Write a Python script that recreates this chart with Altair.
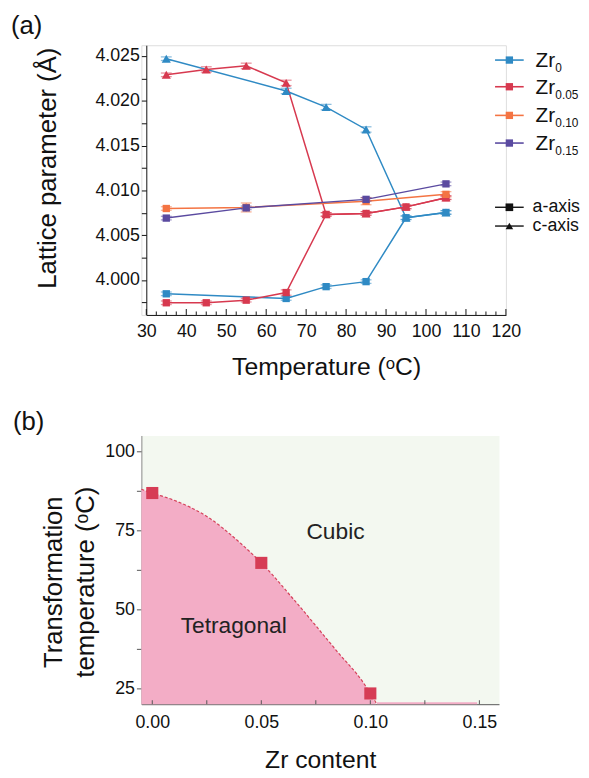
import altair as alt
import pandas as pd

FONT = "Liberation Sans"

# ---------------- panel (a) data ----------------
series_names = ["Zr0", "Zr0.05", "Zr0.10", "Zr0.15"]
series_subs = ["0", "0.05", "0.10", "0.15"]
series_colors = ["#2f8ac4", "#d7394f", "#f47443", "#5a4aa0"]

temps_zr0 = [35, 65, 75, 85, 95, 105]
zr0_a = [3.99846, 3.99794, 3.99926, 3.99982, 4.00695, 4.00754]
zr0_a_err = [0.0002, 0.0002, 0.0002, 0.0002, 0.0002, 0.0002]
zr0_c = [4.0247, 4.0211, 4.0193, 4.0168, 4.00695, 4.00754]
zr0_c_err = [0.0002, 0.0003, 0.0003, 0.0003, 0.0002, 0.0002]

temps_zr005 = [35, 45, 55, 65, 75, 85, 95, 105]
zr005_a = [3.99746, 3.99746, 3.99775, 3.9986, 4.00732, 4.00743, 4.00816, 4.00919]
zr005_a_err = [0.0002, 0.0002, 0.0002, 0.0003, 0.0002, 0.0002, 0.0002, 0.0002]
zr005_c = [4.0229, 4.0235, 4.0239, 4.0220, 4.00732, 4.00743, 4.00816, 4.00919]
zr005_c_err = [0.0002, 0.0003, 0.0003, 0.0003, 0.0002, 0.0002, 0.0002, 0.0002]

temps_zr010 = [35, 55, 85, 105]
zr010_a = [4.00798, 4.0081, 4.0088, 4.00956]
zr010_a_err = [0.0002, 0.0005, 0.0004, 0.0003]

temps_zr015 = [35, 55, 85, 105]
zr015_a = [4.00691, 4.00805, 4.00900, 4.01073]
zr015_a_err = [0.0002, 0.0002, 0.0002, 0.0002]

x_labels_a = [30, 40, 50, 60, 70, 80, 90, 100, 110, 120]
x_minor_a = [32.5, 35, 37.5, 42.5, 45, 47.5, 52.5, 55, 57.5, 62.5, 65, 67.5,
             72.5, 75, 77.5, 82.5, 85, 87.5, 92.5, 95, 97.5, 102.5, 105, 107.5,
             112.5, 115, 117.5]
y_ticks_a = [3.9975, 4.0, 4.0025, 4.005, 4.0075, 4.01, 4.0125, 4.015, 4.0175,
             4.02, 4.0225, 4.025]

# ---------------- panel (b) data ----------------
zr_content = [0.0, 0.05, 0.10]
trans_temp = [86.8, 64.7, 23.4]
curve_x = [-0.005, 0.0, 0.01, 0.025, 0.04, 0.05, 0.065, 0.085, 0.097, 0.100, 0.103]
curve_t = [88.0, 86.8, 84.5, 79.4, 71.2, 64.7, 53.0, 36.5, 26.6, 23.4, 20.0]
floor_x = [0.103, 0.149]
floor_t = [20.6, 20.6]
x_ticks_b = [0.0, 0.025, 0.05, 0.075, 0.10, 0.125, 0.15]
x_labels_b = [0.0, 0.05, 0.10, 0.15]
y_ticks_b = [25, 37.5, 50, 62.5, 75, 87.5, 100]

# ---------------- build table for (a) ----------------
rows = []
def add(series, kind, temps, vals, errs):
    for t, v, e in zip(temps, vals, errs):
        rows.append(dict(series=series, kind=kind, T=t, v=v, lo=v - e, hi=v + e))

add("Zr0", "a", temps_zr0, zr0_a, zr0_a_err)
add("Zr0", "c", temps_zr0, zr0_c, zr0_c_err)
add("Zr0.05", "a", temps_zr005, zr005_a, zr005_a_err)
add("Zr0.05", "c", temps_zr005, zr005_c, zr005_c_err)
add("Zr0.10", "a", temps_zr010, zr010_a, zr010_a_err)
add("Zr0.15", "a", temps_zr015, zr015_a, zr015_a_err)
df_a = pd.DataFrame(rows)

SHIFT = 5  # panel (a) plot starts a few pixels right of panel (b)
W_A, H_A = 364 + SHIFT, 273
sx_a = alt.Scale(domain=[30, 120], nice=False, zero=False, range=[SHIFT, W_A])
sy_a = alt.Scale(domain=[3.9961, 4.0262], nice=False, zero=False)
ax_x_a = alt.Axis(values=x_labels_a, format="d", ticks=False, grid=False,
                  labelOverlap=False, labelFlush=False,
                  labelPadding=8, labelFontSize=18, labelFont=FONT, labelColor="#111",
                  domainColor="#111", title="Temperature (ᵒC)", titleFont=FONT,
                  titleFontSize=25, titleFontWeight="normal", titleColor="#111",
                  titleY=60, titleBaseline="alphabetic")
ax_y_a = alt.Axis(values=y_ticks_a, offset=-SHIFT,
                  labelExpr="round(datum.value*10000) % 50 == 0 ? format(datum.value, '.3f') : ''",
                  labelOverlap=False, labelFlush=False,
                  tickSize=5, tickColor="#111", grid=False, labelPadding=2,
                  labelFontSize=18, labelFont=FONT, labelColor="#111",
                  domainColor="#111", title="Lattice parameter (Å)", titleFont=FONT,
                  titleFontSize=26, titleFontWeight="normal", titleColor="#111",
                  titleAngle=270, titleX=-100, titleY=124, titleBaseline="middle",
                  titleAlign="center")

def XA(field):
    return alt.X(field, type="quantitative", scale=sx_a, axis=ax_x_a)

def YA(field):
    return alt.Y(field, type="quantitative", scale=sy_a, axis=ax_y_a)

col = alt.Color("series:N", scale=alt.Scale(domain=series_names, range=series_colors), legend=None)
base_a = alt.Chart(df_a)

lines_a = base_a.mark_line(strokeWidth=1.5).encode(x=XA("T"), y=YA("v"), color=col, detail="kind:N")
err_a = base_a.mark_rule(strokeWidth=1.3, opacity=0.55).encode(x=XA("T"), y=YA("lo"), y2="hi:Q", color=col)
cap_lo = base_a.mark_tick(orient="horizontal", size=11, thickness=1.3, opacity=0.55).encode(x=XA("T"), y=YA("lo"), color=col)
cap_hi = base_a.mark_tick(orient="horizontal", size=11, thickness=1.3, opacity=0.55).encode(x=XA("T"), y=YA("hi"), color=col)
pts_a = base_a.mark_point(filled=True, opacity=1, strokeWidth=0).encode(
    x=XA("T"), y=YA("v"), color=col,
    shape=alt.Shape("kind:N", scale=alt.Scale(domain=["a", "c"], range=["square", "triangle-up"]), legend=None),
    size=alt.Size("kind:O", scale=alt.Scale(domain=["a", "c"], range=[55, 85]), legend=None))

tick_major_a = alt.Chart(pd.DataFrame({"tv": x_labels_a})).mark_rule(color="#111", strokeWidth=1).encode(
    x=XA("tv"), y=alt.value(H_A), y2=alt.value(H_A - 6))
tick_minor_a = alt.Chart(pd.DataFrame({"tv": x_minor_a})).mark_rule(color="#111", strokeWidth=1).encode(
    x=XA("tv"), y=alt.value(H_A), y2=alt.value(H_A - 3.5))

dummy = pd.DataFrame({"k": [0]})
legend_layers = []
leg_y = [15, 42, 71, 99]
LX = 358
for name, sub, c, yy in zip(series_names, series_subs, series_colors, leg_y):
    legend_layers.append(alt.Chart(dummy).mark_rule(color=c, strokeWidth=1.6).encode(
        x=alt.value(LX), x2=alt.value(LX + 29), y=alt.value(yy)))
    legend_layers.append(alt.Chart(dummy).mark_point(shape="square", filled=True, color=c, size=55, opacity=1, strokeWidth=0).encode(
        x=alt.value(LX + 14.5), y=alt.value(yy)))
    legend_layers.append(alt.Chart(dummy).mark_text(text="Zr", font=FONT, fontSize=21, align="left", baseline="alphabetic", color="#111").encode(
        x=alt.value(LX + 41), y=alt.value(yy + 7)))
    legend_layers.append(alt.Chart(dummy).mark_text(text=sub, font=FONT, fontSize=12, align="left", baseline="alphabetic", color="#111").encode(
        x=alt.value(LX + 61), y=alt.value(yy + 12)))
for label, shp, yy in [("a-axis", "square", 164), ("c-axis", "triangle-up", 183)]:
    legend_layers.append(alt.Chart(dummy).mark_rule(color="#111", strokeWidth=1.4).encode(
        x=alt.value(LX), x2=alt.value(LX + 29), y=alt.value(yy)))
    legend_layers.append(alt.Chart(dummy).mark_point(shape=shp, filled=True, color="#111", size=60, opacity=1, strokeWidth=0).encode(
        x=alt.value(LX + 14.5), y=alt.value(yy)))
    legend_layers.append(alt.Chart(dummy).mark_text(text=label, font=FONT, fontSize=18, align="left", baseline="middle", color="#111").encode(
        x=alt.value(LX + 38), y=alt.value(yy)))

lab_a = alt.Chart(dummy).mark_text(text="(a)", font=FONT, fontSize=26, align="left", baseline="alphabetic", color="#111").encode(
    x=alt.value(-132), y=alt.value(-11))

panel_a = alt.layer(lines_a, err_a, cap_lo, cap_hi, pts_a, tick_major_a, tick_minor_a, lab_a,
                    *legend_layers).properties(width=W_A, height=H_A)

# ---------------- panel (b) ----------------
W_B, H_B = 362, 272
sx_b = alt.Scale(domain=[-0.005, 0.159], nice=False, zero=False)
sy_b = alt.Scale(domain=[20, 105], nice=False, zero=False)
ax_x_b = alt.Axis(values=x_labels_b, format=".2f", ticks=False, grid=False,
                  labelOverlap=False, labelFlush=False,
                  labelPadding=10, labelFontSize=18, labelFont=FONT, labelColor="#111",
                  domainColor="#555", title="Zr content", titleFont=FONT, titleFontSize=25,
                  titleFontWeight="normal", titleColor="#111", titleY=64,
                  titleBaseline="alphabetic")
ax_y_b = alt.Axis(values=y_ticks_b,
                  labelExpr="datum.value % 25 == 0 ? format(datum.value, 'd') : ''",
                  labelOverlap=False, labelFlush=False,
                  tickSize=5, tickColor="#555", grid=False, labelPadding=2, labelFontSize=18,
                  labelFont=FONT, labelColor="#111", domainColor="#888",
                  title=["Transformation", "temperature (ᵒC)"], titleFont=FONT,
                  titleFontSize=26, titleFontWeight="normal", titleColor="#111",
                  titleAngle=270, titleX=-89, titleY=148, titleBaseline="middle",
                  titleAlign="center", titleLineHeight=33)

def XB(field):
    return alt.X(field, type="quantitative", scale=sx_b, axis=ax_x_b)

def YB(field):
    return alt.Y(field, type="quantitative", scale=sy_b, axis=ax_y_b)

df_curve = pd.DataFrame({"zr": curve_x, "t": curve_t})
df_area = pd.DataFrame({"zr": curve_x + floor_x, "t": curve_t + floor_t})
df_pts = pd.DataFrame({"zr": zr_content, "t": trans_temp})

area_b = alt.Chart(df_area).mark_area(color="#f3adc6", opacity=1, interpolate="monotone").encode(
    x=XB("zr"), y=YB("t"), y2=alt.Y2Datum(20))
curve_b = alt.Chart(df_curve).mark_line(color="#d5405a", strokeWidth=1.2, strokeDash=[3, 2], interpolate="monotone").encode(
    x=XB("zr"), y=YB("t"))
pts_b = alt.Chart(df_pts).mark_point(shape="square", filled=True, color="#d63c55", size=150, opacity=1, strokeWidth=0).encode(
    x=XB("zr"), y=YB("t"))
ticks_b = alt.Chart(pd.DataFrame({"tv": x_ticks_b})).mark_rule(color="#555", strokeWidth=1).encode(
    x=XB("tv"), y=alt.value(H_B), y2=alt.value(H_B - 4))
cubic = alt.Chart(dummy).mark_text(text="Cubic", font=FONT, fontSize=23, color="#222", baseline="middle", align="center").encode(
    x=alt.value(196.5), y=alt.value(98))
tetra = alt.Chart(dummy).mark_text(text="Tetragonal", font=FONT, fontSize=23, color="#222", baseline="middle", align="center").encode(
    x=alt.value(93.5), y=alt.value(193))
lab_b = alt.Chart(dummy).mark_text(text="(b)", font=FONT, fontSize=26, align="left", baseline="alphabetic", color="#111").encode(
    x=alt.value(-130), y=alt.value(-6))

panel_b = alt.layer(area_b, curve_b, pts_b, ticks_b, cubic, tetra, lab_b).properties(
    width=W_B, height=H_B, view=alt.ViewBackground(fill="#f3f8f0", stroke="transparent"))

chart = alt.concat(panel_a, panel_b, columns=1, spacing=28, align="none").properties(
    padding={"left": 2, "top": 0, "right": 0, "bottom": 0}
).configure_view(stroke="transparent").configure(background="white")

chart.save("out.html", embed_options={"renderer": "svg", "actions": False})
